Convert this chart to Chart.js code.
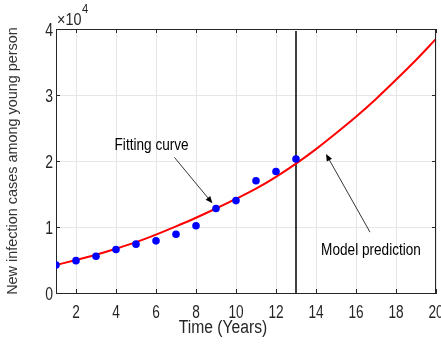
<!DOCTYPE html>
<html>
<head>
<meta charset="utf-8">
<script src="https://cdn.jsdelivr.net/npm/chart.js@4/dist/chart.umd.min.js"></script>
<style>
html,body{margin:0;padding:0;background:#fff;overflow:hidden;}
#wrap{width:441px;height:345px;position:relative;}
</style>
</head>
<body>
<div id="wrap"><canvas id="c"></canvas></div>
<script>
// ---- data ----
const years = [1,2,3,4,5,6,7,8,9,10,11,12,13];
const cases = [4240,4900,5560,6600,7400,7900,8900,10200,12800,14000,17000,18400,20300];
const fitYears = [1,2,3,4,5,6,7,8,9,10,11,12,13,14,15,16,17,18,19,20];
const fitted = [4240,5000,5800,6700,7700,8850,10100,11400,12800,14250,15800,17600,19600,21800,24200,26700,29400,32300,35300,38500];
const splitYear = 13;
const xTickValues = [2,4,6,8,10,12,14,16,18,20];
const xTickLabels = ['2','4','6','8','10','12','14','16','18','20'];
const yTickValues = [0,10000,20000,30000,40000];
const yTickLabels = ['0','1','2','3','4'];
const xTitle = 'Time (Years)';
const yTitle = 'New infection cases among young person';
const fitLabel = 'Fitting curve';
const predLabel = 'Model prediction';

const SANS = "'Liberation Sans',Arial,sans-serif";
const AXIS = '#262626';

function txt(ctx, s, x, y, size, sx, align, color) {
  ctx.save();
  ctx.translate(x, y);
  ctx.scale(sx, 1);
  ctx.font = size + 'px ' + SANS;
  ctx.textAlign = align;
  ctx.textBaseline = 'alphabetic';
  ctx.fillStyle = color || AXIS;
  ctx.fillText(s, 0, 0);
  const w = ctx.measureText(s).width * sx;
  ctx.restore();
  return w;
}

const decor = {
  id: 'decor',
  afterDraw(chart) {
    const ctx = chart.ctx, a = chart.chartArea;
    const xs = chart.scales.x, ys = chart.scales.y;
    ctx.save();
    // box
    ctx.strokeStyle = AXIS; ctx.lineWidth = 1;
    ctx.beginPath();
    ctx.moveTo(a.left, a.top + 0.5); ctx.lineTo(a.right, a.top + 0.5);
    ctx.moveTo(a.right - 0.5, a.top); ctx.lineTo(a.right - 0.5, a.bottom);
    ctx.stroke();
    // inward ticks
    const tl = 4;
    ctx.beginPath();
    xTickValues.forEach(v => {
      const px = Math.round(xs.getPixelForValue(v)) + 0.5;
      ctx.moveTo(px, a.bottom); ctx.lineTo(px, a.bottom - tl);
      ctx.moveTo(px, a.top); ctx.lineTo(px, a.top + tl);
    });
    yTickValues.forEach(v => {
      const py = Math.round(ys.getPixelForValue(v)) + 0.5;
      ctx.moveTo(a.left, py); ctx.lineTo(a.left + tl, py);
      ctx.moveTo(a.right, py); ctx.lineTo(a.right - tl, py);
    });
    ctx.stroke();

    // tick labels
    xTickValues.forEach((v, i) => {
      txt(ctx, xTickLabels[i], xs.getPixelForValue(v), a.bottom + 25, 17.5, 0.78, 'center');
    });
    yTickValues.forEach((v, i) => {
      txt(ctx, yTickLabels[i], a.left - 3, ys.getPixelForValue(v) + 6.5, 17.5, 0.8, 'right');
    });

    // exponent label
    const w = txt(ctx, '\u00d710', a.left + 1, 25, 16, 0.9, 'left');
    txt(ctx, '4', a.left + 1 + w + 0.5, 13, 12.5, 0.9, 'left');

    // axis titles
    txt(ctx, xTitle, 223, 333, 18, 0.87, 'center');
    ctx.save();
    ctx.translate(17, (a.top + a.bottom) / 2);
    ctx.rotate(-Math.PI / 2);
    txt(ctx, yTitle, 0, 0, 14, 1.03, 'center', '#333');
    ctx.restore();

    // annotations
    txt(ctx, fitLabel, xs.getPixelForValue(5.78), ys.getPixelForValue(21670), 17, 0.8, 'center', '#000');
    txt(ctx, predLabel, xs.getPixelForValue(16.75), ys.getPixelForValue(5760), 17, 0.8, 'center', '#000');

    function arrow(x1, y1, x2, y2) {
      const p1 = [xs.getPixelForValue(x1), ys.getPixelForValue(y1)];
      const p2 = [xs.getPixelForValue(x2), ys.getPixelForValue(y2)];
      const ang = Math.atan2(p2[1] - p1[1], p2[0] - p1[0]);
      const hl = 7, hw = 3;
      ctx.strokeStyle = '#000'; ctx.lineWidth = 0.8;
      ctx.beginPath();
      ctx.moveTo(p1[0], p1[1]);
      ctx.lineTo(p2[0] - Math.cos(ang) * hl * 0.8, p2[1] - Math.sin(ang) * hl * 0.8);
      ctx.stroke();
      ctx.beginPath();
      ctx.moveTo(p2[0], p2[1]);
      ctx.lineTo(p2[0] - Math.cos(ang) * hl - Math.sin(ang) * hw, p2[1] - Math.sin(ang) * hl + Math.cos(ang) * hw);
      ctx.lineTo(p2[0] - Math.cos(ang) * hl + Math.sin(ang) * hw, p2[1] - Math.sin(ang) * hl - Math.cos(ang) * hw);
      ctx.closePath();
      ctx.fillStyle = '#000';
      ctx.fill();
    }
    arrow(6.92, 20550, 8.82, 13590);
    arrow(16.7, 9220, 14.5, 21060);
    ctx.restore();
  }
};

new Chart(document.getElementById('c'), {
  type: 'line',
  data: {
    datasets: [
      {
        label: 'Data',
        data: years.map((x, i) => ({x, y: cases[i]})),
        showLine: false,
        pointRadius: 3.8,
        pointBackgroundColor: '#0000ff',
        pointBorderColor: '#0000ff',
        pointBorderWidth: 0
      },
      {
        label: 'Fit',
        data: fitYears.map((x, i) => ({x, y: fitted[i]})),
        borderColor: '#ff0000',
        borderWidth: 2,
        pointRadius: 0,
        cubicInterpolationMode: 'monotone',
        fill: false
      },
      {
        label: 'Split',
        data: [{x: splitYear, y: 0}, {x: splitYear, y: 39700}],
        borderColor: '#000',
        borderWidth: 1.5,
        pointRadius: 0,
        fill: false
      }
    ]
  },
  options: {
    responsive: true,
    maintainAspectRatio: false,
    animation: false,
    events: [],
    layout: {padding: {left: 0, right: 5, top: 29, bottom: 0}},
    plugins: {legend: {display: false}, tooltip: {enabled: false}},
    scales: {
      x: {
        type: 'linear',
        min: 1, max: 20,
        afterBuildTicks(s) { s.ticks = xTickValues.map(v => ({value: v})); },
        afterFit(s) { s.height = 52; s.paddingLeft = 0; s.paddingRight = 0; },
        grid: {color: '#e6e6e6', drawTicks: false, lineWidth: 1},
        border: {color: AXIS, width: 1},
        ticks: {display: false}
      },
      y: {
        min: 0, max: 40000,
        afterBuildTicks(s) { s.ticks = yTickValues.map(v => ({value: v})); },
        afterFit(s) { s.width = 56; s.paddingTop = 0; s.paddingBottom = 0; },
        grid: {color: '#e6e6e6', drawTicks: false, lineWidth: 1},
        border: {color: AXIS, width: 1},
        ticks: {display: false}
      }
    }
  },
  plugins: [decor]
});
</script>
</body>
</html>
